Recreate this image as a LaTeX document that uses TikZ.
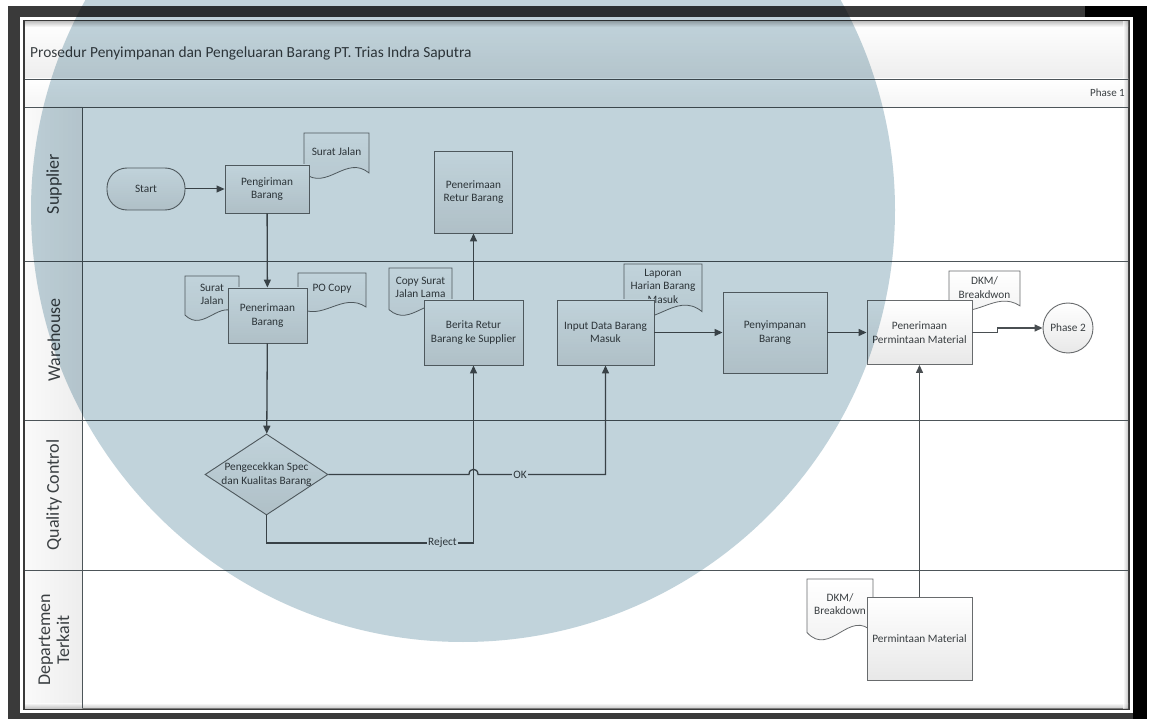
\documentclass[tikz,border=0pt]{standalone}
\usepackage{fontspec}
\setmainfont{Carlito}
\usetikzlibrary{arrows.meta,shapes.geometric,calc}

\definecolor{ln}{HTML}{4A4F52}
\definecolor{bd}{HTML}{686B6D}
\definecolor{tx}{HTML}{3A3F42}
\definecolor{lane}{HTML}{4D5559}
\definecolor{frm}{HTML}{3A3A3A}
\definecolor{wm}{RGB}{193,211,219}

\tikzset{
  base/.style={text=tx, font=\fontsize{11.3}{13.5}\selectfont, align=center},
  proc/.style={base, draw=bd, line width=0.9pt, top color=white, bottom color=black!9, inner sep=1pt},
  term/.style={proc, rounded corners=20pt},
  decis/.style={draw=bd, line width=0.9pt, top color=white, bottom color=black!9, shape=diamond, inner sep=0pt},
  circ/.style={proc, shape=circle, minimum size=50pt},
  docsty/.style={draw=bd, line width=0.8pt, top color=white, bottom color=black!6},
  doctext/.style={base, inner sep=0pt},
  flow/.style={draw=ln, line width=1.3pt, -{Triangle[length=8pt,width=7pt]}},
  lbl/.style={base, fill=white, inner sep=1pt},
  lanetxt/.style={text=tx, font=\fontsize{18}{19}\selectfont, rotate=90, align=center},
}

\newcommand{\docnode}[6]{%
  \pgfmathsetmacro{\mydw}{#4-#2}%
  \pgfmathsetmacro{\mydh}{#5-#3}%
  \draw[docsty] (#2,#3) -- (#4,#3) -- (#4,#3+0.85*\mydh)
     .. controls (#2+0.65*\mydw,#3+0.45*\mydh) and (#2+0.35*\mydw,#3+1.25*\mydh) .. (#2,#3+0.85*\mydh) -- cycle;
  \node[doctext] (#1) at ({(#2+#4)/2},{#3+0.4*\mydh}) {#6};
}

\begin{document}
\begin{tikzpicture}[x=1pt,y=-1pt]
\useasboundingbox (0,0) rectangle (1149,719);
\fill[white] (0,0) rectangle (1149,719);
% frame
\fill[frm] (8,6) rectangle (1147,719);
\fill[black] (1133,6) rectangle (1147,719);
\fill[black] (1085,6) rectangle (1147,17);
\fill[white] (20,17) rectangle (1133,713);
\fill[frm] (23,20) rectangle (1130,710);
\fill[white] (25,22) rectangle (1128,708);
% header rows
\shade[top color=white,bottom color=black!7] (25,22) rectangle (1128,79);
\shade[top color=white,bottom color=black!4] (25,79) rectangle (1128,107);
\shade[left color=black!2,right color=black!7] (25,107) rectangle (82,708);
% inner shadow along the frame
\shade[top color=black!35,bottom color=white,opacity=0.6] (25,22) rectangle (1128,27);
\shade[bottom color=black!35,top color=white,opacity=0.6] (25,703) rectangle (1128,708);
\shade[right color=black!35,left color=white,opacity=0.6] (1123,22) rectangle (1128,708);
% lane lines
\draw[lane, line width=0.9pt] (25,79) -- (1128,79);
\draw[lane, line width=0.9pt] (25,107) -- (1128,107);
\draw[lane, line width=0.9pt] (25,261) -- (1128,261);
\draw[lane, line width=0.9pt] (25,420) -- (1128,420);
\draw[lane, line width=0.9pt] (25,570) -- (1128,570);
\draw[lane, line width=0.9pt] (82,107) -- (82,708);

\node[anchor=west, inner sep=0pt, text=tx, font=\fontsize{15.4}{18}\selectfont] (title) at (30,53) {Prosedur Penyimpanan dan Pengeluaran Barang PT. Trias Indra Saputra};
\node[anchor=east, inner sep=0pt, text=tx, font=\fontsize{11}{12}\selectfont] (phase1) at (1125,93) {Phase 1};

\node[lanetxt] (l1) at (54,184) {Supplier};
\node[lanetxt] (l2) at (54,340) {Warehouse};
\node[lanetxt] (l3) at (54,495) {Quality Control};
\node[lanetxt] (l4) at (54,640) {Departemen\\Terkait};

% documents (behind boxes)
\docnode{sj1}{304}{133}{369}{180}{Surat Jalan}
\docnode{sj2}{185}{276}{239}{322}{Surat\\Jalan}
\docnode{po}{298}{273}{366}{313}{PO Copy}
\docnode{csj}{389}{268}{452}{317}{Copy Surat\\Jalan Lama}
\docnode{lap}{624}{264}{702}{320}{Laporan\\Harian Barang\\Masuk}
\docnode{dkma}{949}{271}{1020}{312}{DKM/\\Breakdwon}
\docnode{dkmb}{807}{579}{873}{642}{DKM/\\Breakdown}

% process nodes
\node[term, minimum width=78pt, minimum height=42pt] (start) at (146,189) {Start};
\node[proc, minimum width=84pt, minimum height=48pt] (peng) at (267,189) {Pengiriman\\Barang};
\node[proc, minimum width=79pt, minimum height=55pt] (pen) at (267.5,315.5) {Penerimaan\\Barang};
\node[decis, minimum width=123pt, minimum height=81pt] (diam) at (266.5,474.5) {};
\node[base, inner sep=0pt] (diamtxt) at (diam.center) {Pengecekkan Spec\\dan Kualitas Barang};
\node[proc, minimum width=78pt, minimum height=82pt] (retur) at (473.5,192) {Penerimaan\\Retur Barang};
\node[proc, minimum width=99pt, minimum height=65pt] (berita) at (473.5,332.5) {Berita Retur\\Barang ke Supplier};
\node[proc, minimum width=97pt, minimum height=65pt] (input) at (605.5,332.5) {Input Data Barang\\Masuk};
\node[proc, minimum width=104pt, minimum height=81pt] (simpan) at (775,332.5) {Penyimpanan\\Barang};
\node[proc, minimum width=105pt, minimum height=64pt] (ppm) at (919.5,332.5) {Penerimaan\\Permintaan Material};
\node[circ] (ph2) at (1068,328) {Phase 2};
\node[proc, minimum width=105pt, minimum height=83pt] (pm) at (919.5,638.5) {Permintaan Material};

% helper coordinates
\coordinate (jmp) at (diam.east -| berita.south);
\coordinate (okc) at (diam.east -| input.south);
\coordinate (rjy) at (0,543);
\coordinate (rj) at (berita.south |- rjy);

% connectors
\draw[flow, line width=1pt] (start) -- (peng);
\draw[flow] (peng) -- (pen);
\draw[flow] (pen) -- (diam);
\draw[flow] (berita) -- (retur);
\draw[flow] (diam.south) |- node[lbl, pos=0.925] {Reject} (rj) -- (berita.south);
\draw[flow] (diam.east) -- ($(jmp)+(-4.5,0)$) .. controls ($(jmp)+(-4.5,-7)$) and ($(jmp)+(4.5,-7)$) .. ($(jmp)+(4.5,0)$) -- node[lbl, pos=0.33] {OK} (okc) -- (input.south);
\draw[flow] (input) -- (simpan);
\draw[flow] (simpan) -- (ppm);
\draw[flow] (ppm.east) -- ++(25,0) -- ++(0,-4.5) -- (ph2);
\draw[flow] (pm) -- (ppm);

% watermark overlay
\begin{scope}[blend mode=multiply]
\fill[wm] (463,210) circle[radius=432pt];
\end{scope}
\end{tikzpicture}
\end{document}
